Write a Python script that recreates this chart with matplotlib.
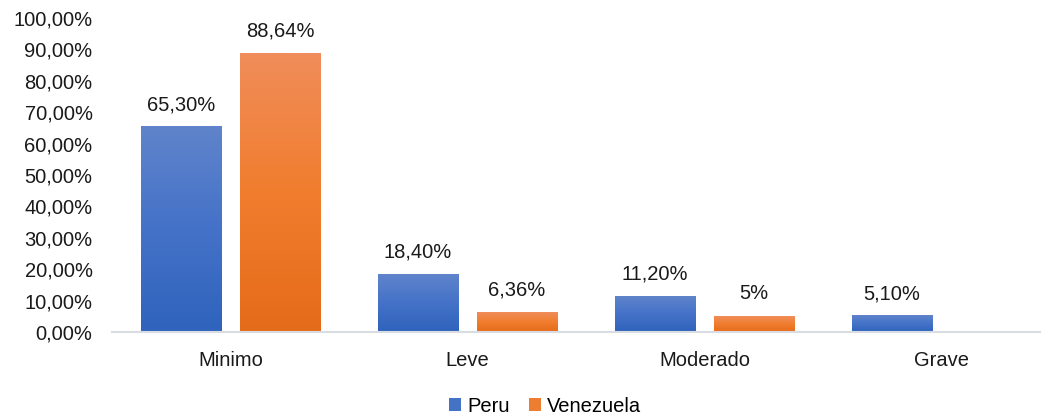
import numpy as np
import matplotlib
matplotlib.use("Agg")
import matplotlib.pyplot as plt
from matplotlib.colors import LinearSegmentedColormap
from matplotlib.patches import Patch

plt.rcParams['font.family'] = ['Liberation Sans', 'DejaVu Sans']

categories = ["Minimo", "Leve", "Moderado", "Grave"]
peru = [65.30, 18.40, 11.20, 5.10]
venezuela = [88.64, 6.36, 5.0, None]
peru_labels = ["65,30%", "18,40%", "11,20%", "5,10%"]
venezuela_labels = ["88,64%", "6,36%", "5%", ""]
series_names = ["Peru", "Venezuela"]
yticks = [0, 10, 20, 30, 40, 50, 60, 70, 80, 90, 100]

FS = 14.5
TXT = "#1a1a1a"

W, H = 1049, 417
fig = plt.figure(figsize=(W / 100, H / 100), dpi=100)
ax = fig.add_axes([112 / W, 1 - 332 / H, (1040 - 112) / W, (332 - 18) / H])

blue_cmap = LinearSegmentedColormap.from_list("blue", ["#2F63BC", "#4472C8", "#6084CB"])
orange_cmap = LinearSegmentedColormap.from_list("orange", ["#E46B19", "#F17D2E", "#F08D5A"])
legend_colors = ["#4472C4", "#ED7D31"]

width = 0.3376
offset = 0.209
grad = np.linspace(0, 1, 256).reshape(-1, 1)


def gradient_bar(x, h, cmap):
    ax.imshow(grad, cmap=cmap, origin="lower", aspect="auto",
              extent=(x - width / 2, x + width / 2, 0, h), zorder=2)


x = np.arange(len(categories))
for i in range(len(categories)):
    if peru[i] is not None:
        gradient_bar(x[i] - offset, peru[i], blue_cmap)
        ax.text(x[i] - offset, peru[i] + 5.4, peru_labels[i], ha="center",
                va="baseline", fontsize=FS, color=TXT)
    if venezuela[i] is not None:
        gradient_bar(x[i] + offset, venezuela[i], orange_cmap)
        ax.text(x[i] + offset, venezuela[i] + 5.4, venezuela_labels[i], ha="center",
                va="baseline", fontsize=FS, color=TXT)

ax.set_xlim(-0.5, -0.5 + (1040 - 112) / 237)
ax.set_ylim(0, 100)
ax.set_xticks(x)
ax.set_xticklabels(categories, fontsize=FS, color=TXT)
ax.set_yticks(yticks)
ax.set_yticklabels([f"{v},00%" for v in yticks], fontsize=FS, color=TXT)
ax.tick_params(axis="both", length=0)
ax.tick_params(axis="x", pad=14)
ax.tick_params(axis="y", pad=14)

for s in ["top", "right", "left"]:
    ax.spines[s].set_visible(False)
ax.spines["bottom"].set_color("#D9DDE3")
ax.spines["bottom"].set_linewidth(1.5)

handles = [Patch(facecolor=c, edgecolor="none") for c in legend_colors]
fig.legend(handles, series_names, loc="center", bbox_to_anchor=(545 / W, 1 - 406 / H),
           ncol=2, frameon=False, fontsize=FS, handlelength=0.6, handleheight=0.6,
           handletextpad=0.3, columnspacing=0.95, borderpad=0, borderaxespad=0)

fig.savefig("out.png", dpi=100, facecolor="white")
